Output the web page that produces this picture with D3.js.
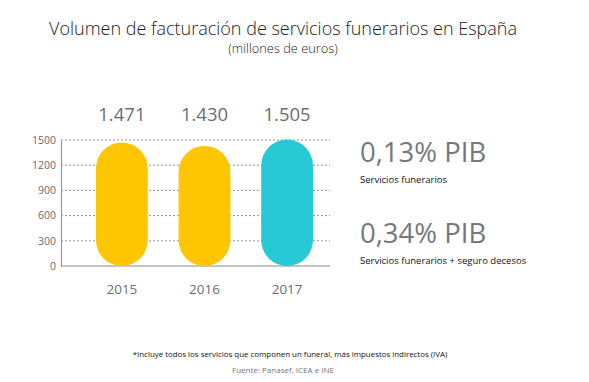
<!DOCTYPE html>
<html>
<head>
<meta charset="utf-8">
<script src="https://cdn.jsdelivr.net/npm/d3@7"></script>
<style>
body { margin: 0; background: #fff; }
svg { font-family: "Open Sans", sans-serif; }
</style>
</head>
<body>
<script>
var years = ['2015', '2016', '2017'];
var values = [1471, 1430, 1505];
var valueLabels = ['1.471', '1.430', '1.505'];
var barColors = ['#fdc600', '#fdc600', '#27cad4'];
var yTicks = [0, 300, 600, 900, 1200, 1500];
var pibValues = ['0,13% PIB', '0,34% PIB'];
var pibLabels = ['Servicios funerarios', 'Servicios funerarios + seguro decesos'];

var svg = d3.select('body').append('svg')
  .attr('width', 589)
  .attr('height', 382);

// titles
svg.append('text')
  .attr('x', 283).attr('y', 34.5)
  .attr('text-anchor', 'middle')
  .attr('font-size', 18)
  .attr('font-weight', 300)
  .attr('fill', '#222')
  .text('Volumen de facturación de servicios funerarios en España');
svg.append('text')
  .attr('x', 283).attr('y', 53)
  .attr('text-anchor', 'middle')
  .attr('font-size', 12.8)
  .attr('font-weight', 300)
  .attr('fill', '#222')
  .text('(millones de euros)');

var x = d3.scaleBand().domain(years).range([96, 313]).paddingInner(0.373).paddingOuter(0);
var y = d3.scaleLinear().domain([0, 1500]).range([266, 140]);

// grid
svg.append('g').selectAll('line')
  .data(yTicks.filter(d => d > 0))
  .enter().append('line')
  .attr('x1', 61).attr('x2', 330)
  .attr('y1', d => y(d)).attr('y2', d => y(d))
  .attr('stroke', '#777')
  .attr('stroke-width', 0.8)
  .attr('stroke-dasharray', '2,2');

var yAxis = svg.append('g')
  .attr('transform', 'translate(61,0)')
  .call(d3.axisLeft(y).tickValues(yTicks).tickFormat(d3.format('d')).tickSize(0).tickPadding(5));
yAxis.select('.domain').attr('stroke', '#999').attr('stroke-width', 1.2);
yAxis.selectAll('text')
  .attr('font-size', 10.5)
  .attr('fill', '#6a6a72').attr('font-family', '"Open Sans", sans-serif');

// baseline
svg.append('line')
  .attr('x1', 61).attr('x2', 330)
  .attr('y1', y(0)).attr('y2', y(0))
  .attr('stroke', '#888');

// bars (rounded pills)
var bw = x.bandwidth();
svg.append('g').selectAll('rect')
  .data(values)
  .enter().append('rect')
  .attr('x', (d, i) => x(years[i]))
  .attr('y', d => y(d))
  .attr('width', bw)
  .attr('height', d => y(0) - y(d))
  .attr('rx', bw / 2)
  .attr('fill', (d, i) => barColors[i]);

// value labels
svg.append('g').selectAll('text')
  .data(valueLabels)
  .enter().append('text')
  .attr('x', (d, i) => x(years[i]) + bw / 2)
  .attr('y', 121)
  .attr('text-anchor', 'middle')
  .attr('font-size', 18.5)
  .attr('fill', '#6d6e71')
  .text(d => d);

// year labels
svg.append('g').selectAll('text')
  .data(years)
  .enter().append('text')
  .attr('x', d => x(d) + bw / 2)
  .attr('y', 294)
  .attr('text-anchor', 'middle')
  .attr('font-size', 13.5)
  .attr('fill', '#6d6e71')
  .text(d => d);

// right side
var side = svg.append('g').selectAll('g')
  .data(pibValues)
  .enter().append('g')
  .attr('transform', (d, i) => 'translate(360,' + (162 + i * 81) + ')');
side.append('text')
  .attr('font-size', 27.5)
  .attr('fill', '#77787b')
  .text(d => d);
side.append('text')
  .attr('y', 21)
  .attr('font-size', 9.5)
  .attr('fill', '#111')
  .text((d, i) => pibLabels[i]);

// notes
svg.append('text')
  .attr('x', 290).attr('y', 357)
  .attr('text-anchor', 'middle')
  .attr('font-size', 7.9)
  .attr('fill', '#111')
  .text('*Incluye todos los servicios que componen un funeral, más impuestos indirectos (IVA)');
svg.append('text')
  .attr('x', 283).attr('y', 373)
  .attr('text-anchor', 'middle')
  .attr('font-size', 8)
  .attr('fill', '#777')
  .text('Fuente: Panasef, ICEA e INE');
</script>
</body>
</html>
